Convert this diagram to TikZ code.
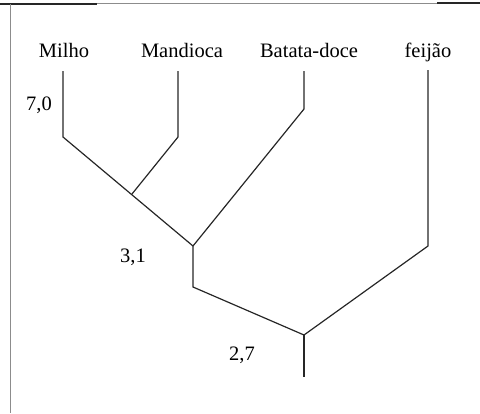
\documentclass[tikz,border=0pt]{standalone}
\usepackage{fontspec}
\setmainfont{Liberation Serif}
\begin{document}
\begin{tikzpicture}[x=1pt,y=-1pt,
  lbl/.style={anchor=base,inner sep=0pt,font=\fontsize{20.5}{23}\selectfont},
  branch/.style={line width=1.2pt,black!85},
  frame/.style={line width=0.8pt,black!45}]
\useasboundingbox (0,0) rectangle (480,413);
% frame
\draw[line width=1.6pt,black!85] (0,4) -- (97,4);
\draw[frame] (97,3.5) -- (437,3.5);
\draw[line width=1.6pt,black!85] (437,3) -- (480,3);
\draw[frame] (10,4) -- (10,413);
% labels
\node[lbl] (milho) at (64,57) {Milho};
\node[lbl] (mand) at (182,57) {Mandioca};
\node[lbl] (bat) at (309,57) {Batata-doce};
\node[lbl] (fei) at (428,57) {feijão};
\node[lbl] (v70) at (39,110) {7,0};
\node[lbl] (v31) at (133,262) {3,1};
\node[lbl] (v27) at (242,360) {2,7};
% tree points
\coordinate (mt) at (63,71);   \coordinate (mb) at (63,137);
\coordinate (at) at (178,71);  \coordinate (ab) at (178,137);
\coordinate (bt) at (304,71);  \coordinate (bb) at (304,109);
\coordinate (ft) at (428,70);  \coordinate (fb) at (428,246);
\coordinate (j1) at (132,194);
\coordinate (j2) at (193,246); \coordinate (j2b) at (193,287);
\coordinate (j3) at (304,335); \coordinate (root) at (304,377);
% branches
\draw[branch] (mt) -- (mb) -- (j2);
\draw[branch] (at) -- (ab) -- (j1);
\draw[branch] (bt) -- (bb) -- (j2);
\draw[branch] (j2) -- (j2b) -- (j3);
\draw[branch] (ft) -- (fb) -- (j3);
\draw[branch] (j3) -- (root);
\end{tikzpicture}
\end{document}
